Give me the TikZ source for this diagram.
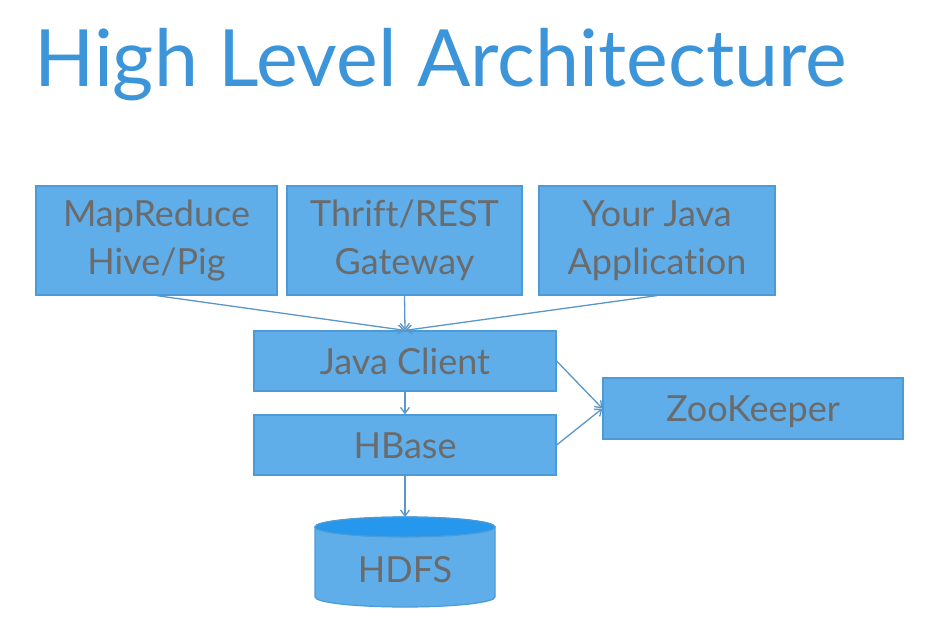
\documentclass[tikz,border=0pt]{standalone}
\usepackage{fontspec}
\setmainfont{Lato}[Ligatures=NoCommon]
\usetikzlibrary{arrows.meta}

\definecolor{titleblue}{RGB}{61,149,217}
\definecolor{boxfill}{RGB}{95,174,234}
\definecolor{boxline}{RGB}{76,154,214}
\definecolor{txtgray}{RGB}{107,107,107}
\definecolor{linkblue}{RGB}{90,150,200}
\definecolor{disktop}{RGB}{37,152,238}

\begin{document}
\begin{tikzpicture}[x=1pt,y=-1pt,
    archbox/.style={draw=boxline,fill=boxfill,text=txtgray,line width=1.2pt,inner sep=0pt,align=center,font=\fontsize{36}{48}\selectfont},
    oneline/.style={text height=26pt,text depth=0pt},
    link/.style={draw=linkblue,line width=1.3pt,-{Straight Barb[length=6pt,width=9pt]}}]
    \useasboundingbox (0,0) rectangle (929,637);

    \node[anchor=base west,text=titleblue,inner sep=0pt,font=\fontsize{79}{79}\selectfont] (title) at (34,86) {High Level Architecture};

    % top row
    \node[archbox,minimum width=241pt,minimum height=109pt] (mapred) at (156.5,240.5) {MapReduce\\Hive/Pig};
    \node[archbox,minimum width=235pt,minimum height=109pt] (thrift) at (404.5,240.5) {Thrift/REST\\Gateway};
    \node[archbox,minimum width=236pt,minimum height=109pt] (yourapp) at (657,240.5) {Your Java\\Application};

    % middle
    \node[archbox,oneline,minimum width=302pt,minimum height=60pt] (jclient) at (405,361) {Java Client};
    \node[archbox,oneline,minimum width=302pt,minimum height=60pt] (hbase) at (405,445) {HBase};
    \node[archbox,oneline,minimum width=300pt,minimum height=61pt] (zk) at (753,408.5) {ZooKeeper};

    % disk
    \draw[draw=boxline,fill=boxfill,line width=1.2pt] (315,527) -- (315,597) arc[start angle=180,end angle=0,x radius=90,y radius=10] -- (495,527) arc[start angle=0,end angle=-180,x radius=90,y radius=10] -- cycle;
    \draw[draw=boxline,fill=disktop,line width=1.2pt] (405,527) ellipse[x radius=90,y radius=10];
    \coordinate (disk) at (405,517);
    \node[oneline,text=txtgray,font=\fontsize{36}{48}\selectfont] (hdfs) at (405,569) {HDFS};

    \draw[link] (mapred.south) -- (jclient.north);
    \draw[link] (thrift.south) -- (jclient.north);
    \draw[link] (yourapp.south) -- (jclient.north);
    \draw[link] (jclient.south) -- (hbase.north);
    \draw[link] (hbase.south) -- (disk);
    \draw[link] (jclient.east) -- (zk.west);
    \draw[link] (hbase.east) -- (zk.west);
\end{tikzpicture}
\end{document}
